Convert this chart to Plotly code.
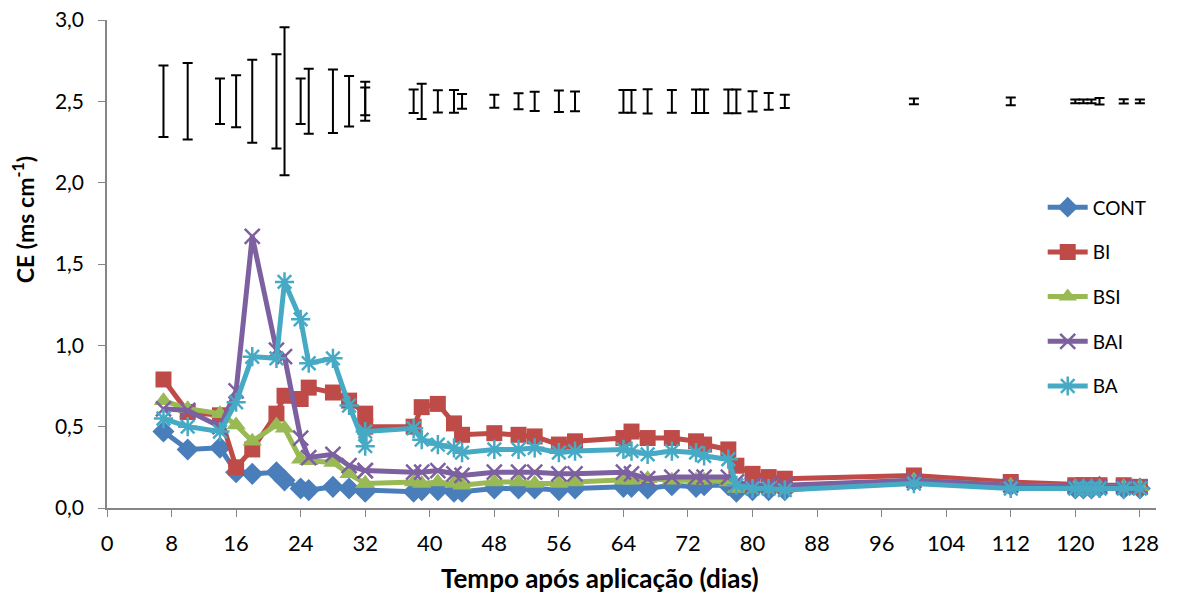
import plotly.graph_objects as go

days = [7, 10, 14, 16, 18, 21, 22, 24, 25, 28, 30, 32, 32, 38, 39, 41, 43, 44, 48, 51, 53,
        56, 58, 64, 65, 67, 70, 73, 74, 77, 78, 80, 82, 84, 100, 112, 120, 121, 122, 123, 126, 128]

CONT = [0.47, 0.36, 0.37, 0.22, 0.21, 0.22, 0.17, 0.12, 0.11, 0.13, 0.12, 0.10, 0.11, 0.10, 0.11,
        0.11, 0.10, 0.10, 0.12, 0.12, 0.12, 0.11, 0.12, 0.13, 0.13, 0.12, 0.14, 0.13, 0.14, 0.14,
        0.10, 0.11, 0.11, 0.11, 0.17, 0.14, 0.12, 0.12, 0.12, 0.13, 0.12, 0.12]
BI = [0.79, 0.59, 0.57, 0.25, 0.36, 0.58, 0.69, 0.67, 0.74, 0.71, 0.66, 0.58, 0.50, 0.50, 0.62,
      0.64, 0.52, 0.45, 0.46, 0.45, 0.44, 0.39, 0.41, 0.43, 0.47, 0.43, 0.43, 0.41, 0.39, 0.36,
      0.26, 0.21, 0.19, 0.18, 0.20, 0.16, 0.14, 0.14, 0.14, 0.14, 0.14, 0.13]
BSI = [0.66, 0.61, 0.58, 0.51, 0.41, 0.51, 0.49, 0.30, 0.29, 0.28, 0.21, 0.15, 0.15, 0.16, 0.15,
       0.16, 0.15, 0.14, 0.16, 0.16, 0.15, 0.15, 0.16, 0.17, 0.17, 0.18, 0.17, 0.17, 0.17, 0.16,
       0.12, 0.12, 0.12, 0.12, 0.17, 0.14, 0.13, 0.13, 0.13, 0.13, 0.13, 0.13]
BAI = [0.61, 0.60, 0.50, 0.72, 1.67, 0.97, 0.93, 0.43, 0.31, 0.33, 0.26, 0.23, 0.23, 0.22, 0.22,
       0.23, 0.21, 0.20, 0.22, 0.22, 0.22, 0.21, 0.21, 0.22, 0.21, 0.18, 0.19, 0.19, 0.19, 0.19,
       0.16, 0.14, 0.14, 0.14, 0.17, 0.14, 0.13, 0.13, 0.13, 0.13, 0.13, 0.13]
BA = [0.55, 0.50, 0.47, 0.65, 0.93, 0.92, 1.39, 1.16, 0.89, 0.92, 0.63, 0.38, 0.47, 0.49, 0.42,
      0.39, 0.37, 0.34, 0.36, 0.36, 0.37, 0.34, 0.35, 0.36, 0.35, 0.33, 0.35, 0.34, 0.32, 0.30,
      0.14, 0.12, 0.12, 0.11, 0.15, 0.12, 0.12, 0.12, 0.12, 0.12, 0.12, 0.12]

err_center = 2.5
err_half = [0.22, 0.235, 0.14, 0.16, 0.255, 0.29, 0.455, 0.14, 0.20, 0.195, 0.155, 0.12, 0.085,
            0.072, 0.108, 0.068, 0.07, 0.045, 0.04, 0.049, 0.059, 0.066, 0.061, 0.07, 0.07, 0.075,
            0.07, 0.072, 0.072, 0.073, 0.073, 0.062, 0.051, 0.041, 0.018, 0.024, 0.012, 0.012,
            0.012, 0.02, 0.013, 0.012]

x_title = "<b>Tempo após aplicação (dias)</b>"
y_title = "<b>CE (ms cm<sup>-1</sup>)</b>"

series = [
    ("CONT", CONT, "#4A7EBB", dict(symbol="diamond", size=17)),
    ("BI", BI, "#BE4B48", dict(symbol="square", size=16)),
    ("BSI", BSI, "#98B954", dict(symbol="triangle-up", size=17)),
    ("BAI", BAI, "#7D60A0", dict(symbol="x-thin-open", size=15, line=dict(width=2.5))),
    ("BA", BA, "#46AAC5", dict(symbol="asterisk-open", size=16, line=dict(width=2.5))),
]

FONT = "Lato, 'Open Sans', sans-serif"
fig = go.Figure()

fig.add_trace(go.Scatter(
    x=days, y=[err_center] * len(days), mode="markers",
    marker=dict(size=1, color="rgba(0,0,0,0)"),
    error_y=dict(type="data", array=err_half, visible=True, color="black", thickness=2, width=5),
    showlegend=False, hoverinfo="skip"))

for name, vals, col, mk in series:
    m = dict(color=col, **mk)
    if "line" in mk:
        m["line"] = dict(color=col, width=mk["line"]["width"])
    fig.add_trace(go.Scatter(
        x=days, y=vals, mode="lines+markers", name=name, legendgroup=name,
        line=dict(color=col, width=5), marker=m))

fig.update_layout(
    width=1173, height=587,
    margin=dict(l=99, r=25, t=12, b=87, autoexpand=False),
    paper_bgcolor="white", plot_bgcolor="white",
    separators=",.",
    font=dict(family=FONT, size=22, color="black"),
    showlegend=True,
    legend=dict(x=0.892, y=0.655, xanchor="left", yanchor="top",
                font=dict(family=FONT, size=19), tracegroupgap=17,
                bgcolor="rgba(0,0,0,0)", itemwidth=40),
    xaxis=dict(range=[0, 130], tickmode="array", tickvals=list(range(0, 129, 8)),
               showline=True, linecolor="#868686", linewidth=1.5, automargin=False,
               ticks="outside", ticklen=7, tickcolor="#868686", showgrid=False, zeroline=False,
               tickfont=dict(size=22), ticklabelstandoff=8, ticklabeloverflow="allow"),
    yaxis=dict(range=[0, 3.0], tickmode="array", tickvals=[0, 0.5, 1.0, 1.5, 2.0, 2.5, 3.0],
               tickformat=".1f", showline=True, linecolor="#868686", linewidth=1.5, automargin=False,
               ticks="outside", ticklen=7, tickcolor="#868686", showgrid=False, zeroline=False,
               tickfont=dict(size=21), ticklabelstandoff=10, ticklabeloverflow="allow"),
    annotations=[
        dict(text=x_title, xref="paper", yref="paper", x=0.47, y=-0.143,
             xanchor="center", yanchor="middle", showarrow=False,
             font=dict(family=FONT, size=26)),
        dict(text=y_title, xref="paper", yref="paper", x=-0.08, y=0.59, textangle=-90,
             xanchor="center", yanchor="middle", showarrow=False,
             font=dict(family=FONT, size=23)),
    ],
)

fig.write_html("out.html")
